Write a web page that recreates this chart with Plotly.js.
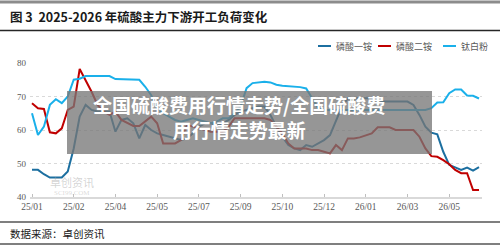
<!DOCTYPE html>
<html><head><meta charset="utf-8">
<script src="https://cdn.plot.ly/plotly-3.0.1.min.js"></script>
<style>html,body{margin:0;padding:0;background:#fff;}#c{width:500px;height:246px;}</style>
</head><body><div id="c"></div>
<script>
const seriesNames = ["磷酸一铵", "磷酸二铵", "钛白粉"];
const seriesColors = ["#1c6fa0", "#c00000", "#1ab0ea"];
const tickLabels = ["25/01","25/02","25/04","25/05","25/07","25/09","25/10","25/12","26/01","26/03","26/05"];
const tickStep = 7;
const mapYiAn = [48.1,48.1,46.8,45.8,45.8,45.8,47.6,54.5,64,67.5,66,65.5,65.5,65.5,59.5,63,63.5,62,57.5,61.5,60,59,58.5,58,57.5,57,57.5,59,61,62,62,61.5,62,63,64.5,65.5,66,66.5,67,67,64.5,61,58,55.5,54.5,54,55.5,55,56,57,58.5,63,67,69.5,69.5,69.5,69.5,69.5,69,68.5,68.5,68.5,68.5,68.5,67.5,64.5,61,59.2,58.7,53.5,49.6,48.8,48.1,48.8,47.9,48.9];
const dapErAn = [68,66.5,66.3,59.3,59,60.5,66,67,78.2,74.9,71.4,67.5,65.5,64.5,65.5,63,62,61.2,61.2,62.5,64,62,56,56,56,57,61.5,61,60.5,60,59.5,59.5,59.5,61,63.5,63.5,63.5,63.5,63.5,63.5,63,61,59,56,54.5,54.5,54.5,54,54,53.5,53,55.5,54,57.5,57.5,57.8,58.5,59,60.8,60.8,60.8,60,60,60,60,58,54.5,52.2,52,51,49.8,48.1,47.1,47.1,42.1,42.1];
const taiBaiFen = [65,58.5,61,67.5,69.2,68,70,75,75.3,76.1,76.1,76.1,76.1,76.1,75.2,75.2,75.2,75.2,75,72.9,70.4,66.5,65,64,63,62.5,63,63.5,63,62.5,62,62.5,63.5,63.5,65,67,72.5,74,74.2,74.4,74.2,73.5,73.2,73.1,73,72.8,72.4,69.5,66.5,66,66,66,66,66,66,66,66,66,66,66,66,66,66,66,66,66,66,66.5,68.2,68.3,71,72.1,72.1,70.3,70.2,69.4];
const allSeries = [mapYiAn, dapErAn, taiBaiFen];

const W=500,H=246, ML=30, MR=18, MT=63, MB=49;
const PW=W-ML-MR, PH=H-MT-MB;
const px = x => (x-ML)/PW;
const py = y => 1-(y-MT)/PH;

const xIdx = mapYiAn.map((_,i)=>i);
const tickVals = tickLabels.map((_,i)=>i*tickStep);

const traces = allSeries.map((s,k)=>({
  x: xIdx, y: s, type:'scatter', mode:'lines', name: seriesNames[k],
  line:{color: seriesColors[k], width:2}, hoverinfo:'skip'
}));

const shapes = [
  {type:'line', xref:'paper', yref:'paper', x0:px(0), x1:px(500), y0:py(2), y1:py(2), line:{color:'#8c8c8c', width:3}},
  {type:'line', xref:'paper', yref:'paper', x0:px(0), x1:px(500), y0:py(30.5), y1:py(30.5), line:{color:'#262626', width:1.5}},
  {type:'line', xref:'paper', yref:'paper', x0:px(0), x1:px(500), y0:py(222), y1:py(222), line:{color:'#7f7f7f', width:2}},
  {type:'line', xref:'paper', yref:'paper', x0:px(0), x1:px(500), y0:py(244), y1:py(244), line:{color:'#7f7f7f', width:2}},
  {type:'rect', xref:'paper', yref:'paper', x0:px(67), x1:px(432), y0:py(154), y1:py(91), fillcolor:'rgba(118,118,118,0.77)', line:{width:0}, layer:'above'}
];
const legX = [318, 378, 443];
const annotations = [
  {xref:'paper', yref:'paper', x:px(8), y:py(16), xanchor:'left', yanchor:'middle', showarrow:false,
   text:'<b>图 3  2025-2026 年硫酸主力下游开工负荷变化</b>', font:{family:'Noto Sans CJK SC', size:12.5, color:'#1a1a1a'}},
  {xref:'paper', yref:'paper', x:px(8), y:py(233), xanchor:'left', yanchor:'middle', showarrow:false,
   text:'数据来源：卓创资讯', font:{family:'Noto Sans CJK SC', size:10.5, color:'#1a1a1a'}},
  {xref:'paper', yref:'paper', x:px(72), y:py(182), xanchor:'center', yanchor:'middle', showarrow:false,
   text:'卓创资讯', font:{family:'Noto Sans CJK SC', size:11, color:'rgba(160,160,160,0.45)'}},
  {xref:'paper', yref:'paper', x:px(72), y:py(192.5), xanchor:'center', yanchor:'middle', showarrow:false,
   text:'SCI99.COM', font:{family:'Liberation Serif', size:7, color:'rgba(170,170,170,0.45)'}},
  {xref:'paper', yref:'paper', x:px(239), y:py(117), xanchor:'center', yanchor:'middle', showarrow:false, align:'center',
   text:'<b>全国硫酸费用行情走势/全国硫酸费<br>用行情走势最新</b>', font:{family:'Noto Sans CJK SC', size:19, color:'#ffffff'}}
];
seriesNames.forEach((n,k)=>{
  shapes.push({type:'line', xref:'paper', yref:'paper', x0:px(legX[k]), x1:px(legX[k]+13), y0:py(46), y1:py(46), line:{color:seriesColors[k], width:2}});
  annotations.push({xref:'paper', yref:'paper', x:px(legX[k]+16), y:py(46), xanchor:'left', yanchor:'middle', showarrow:false,
    text:n, font:{family:'Noto Sans CJK SC', size:9, color:'#595959'}});
});

const layout = {
  width:W, height:H, margin:{l:ML, r:MR, t:MT, b:MB, pad:0},
  paper_bgcolor:'#fff', plot_bgcolor:'#fff', showlegend:false,
  xaxis:{range:[-0.336,75.5], tickmode:'array', tickvals:tickVals, ticktext:tickLabels,
    showgrid:false, zeroline:false, showline:true, linecolor:'#d9d9d9', linewidth:1.5,
    ticks:'inside', ticklen:3, tickcolor:'#bfbfbf',
    tickfont:{family:'Liberation Serif', size:9.5, color:'#595959'}},
  yaxis:{range:[40,80], tickvals:[40,50,60,70,80], ticksuffix:'%', showgrid:true, gridcolor:'#d9d9d9', griddash:'dot',
    zeroline:false, showline:false, ticks:'', ticklabelstandoff:3,
    tickfont:{family:'Liberation Serif', size:9, color:'#595959'}},
  shapes: shapes, annotations: annotations
};
Plotly.newPlot('c', traces, layout, {staticPlot:true, displayModeBar:false});
</script>
</body></html>
